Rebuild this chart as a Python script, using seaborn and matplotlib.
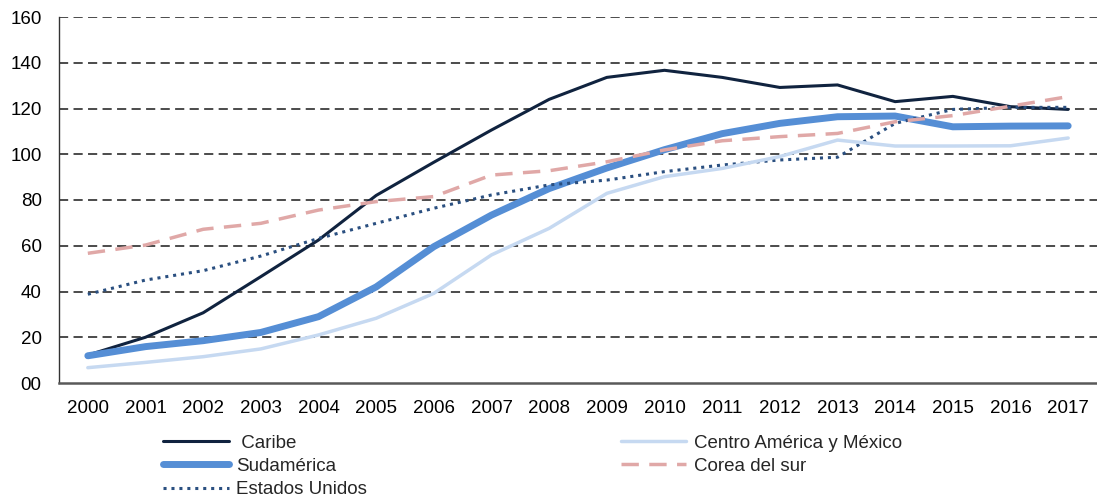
import pandas as pd
import matplotlib.pyplot as plt
import seaborn as sns

sns.set_theme(style="white")
plt.rcParams['font.family'] = ['Liberation Sans', 'DejaVu Sans']

# data
years = list(range(2000, 2018))
caribe = [12.2, 20.0, 30.7, 46.5, 62.5, 82.0, 96.5, 110.6, 124.0, 133.6,
          136.7, 133.6, 129.2, 130.3, 123.0, 125.3, 120.8, 119.6]
sudamerica = [11.9, 15.9, 18.5, 22.1, 29.0, 42.0, 59.6, 73.4, 85.0, 94.0,
              102.0, 109.0, 113.5, 116.4, 116.7, 112.0, 112.3, 112.4]
centro = [6.7, 9.0, 11.5, 14.9, 21.0, 28.3, 39.2, 56.0, 67.6, 82.9,
          90.2, 93.8, 99.0, 106.2, 103.6, 103.6, 103.7, 107.1]
corea = [56.7, 60.3, 67.2, 69.8, 75.6, 79.3, 81.5, 90.9, 92.8, 96.7,
         101.9, 105.9, 107.7, 109.1, 114.2, 116.9, 121.0, 125.2]
eeuu = [38.8, 45.0, 49.1, 55.5, 63.2, 69.8, 76.4, 82.2, 86.6, 88.7,
        92.4, 95.3, 97.5, 98.7, 113.5, 119.6, 120.5, 120.5]

labels = [" Caribe", "Sudamérica", "Estados Unidos", "Centro América y México", "Corea del sur"]
series = [caribe, sudamerica, eeuu, centro, corea]
colors = ["#10233f", "#558ed5", "#2a4f80", "#c6d9f1", "#e0a8a7"]
widths = [2.2, 5.0, 2.2, 2.5, 2.5]
styles = ["-", "-", (0, (1, 1.6)), "-", (0, (5, 3))]

fig = plt.figure(figsize=(10.97, 5.0), dpi=100)
ax = fig.add_axes([59 / 1097, 1 - 383 / 500, 1 - 59 / 1097, 366 / 500])

for vals, lab, c, w, s in zip(series, labels, colors, widths, styles):
    df = pd.DataFrame({"year": years, "value": vals})
    sns.lineplot(data=df, x="year", y="value", ax=ax, color=c, linewidth=w,
                 linestyle=s, label=lab, solid_capstyle="round")

ax.set_xlim(1999.5, 2017.5)
ax.set_ylim(0, 160)
ax.set_xticks(years)
ax.set_xticklabels([str(y) for y in years])
yt = list(range(0, 161, 20))
ax.set_yticks(yt)
ax.set_yticklabels([f"{v:02d}" for v in yt])
ax.tick_params(axis="both", labelsize=13.5, length=0, colors="black")
ax.tick_params(axis="x", pad=12)
ax.tick_params(axis="y", pad=12.5)
ax.set_xlabel("")
ax.set_ylabel("")

for v in yt[1:]:
    ax.axhline(v, color="#1a1a1a", linewidth=1.1, linestyle=(0, (6, 3.5)), zorder=0)

for side in ["top", "right"]:
    ax.spines[side].set_visible(False)
ax.spines["left"].set_color("#333333")
ax.spines["left"].set_linewidth(1.0)
ax.spines["bottom"].set_color("#595959")
ax.spines["bottom"].set_linewidth(1.8)

ax.get_legend().remove()
handles, labs = ax.get_legend_handles_labels()
fig.legend(handles, labs, loc="upper left", bbox_to_anchor=(154 / 1097, 1 - 425 / 500),
           ncol=2, frameon=False, fontsize=13.5, borderpad=0, handlelength=3.5,
           handletextpad=0.4, columnspacing=13.5, labelspacing=0.33)

plt.savefig("out.png", dpi=100)
